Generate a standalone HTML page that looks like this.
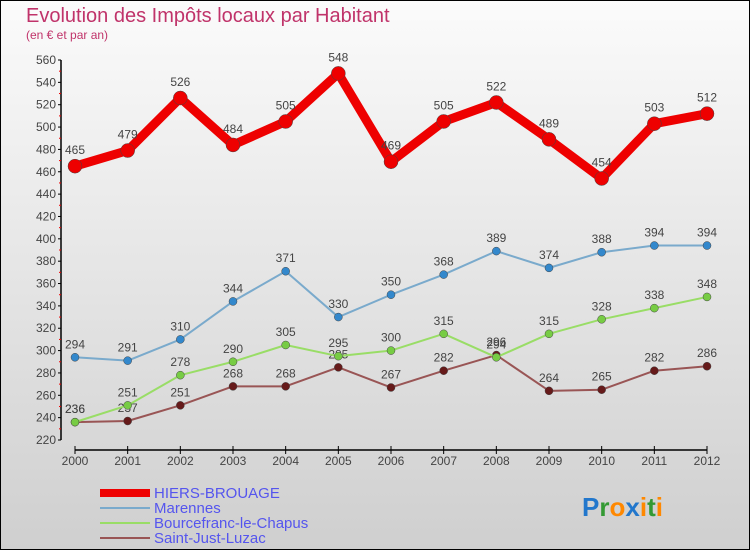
<!DOCTYPE html>
<html><head><meta charset="utf-8"><style>
body{margin:0;}
#c{width:750px;height:550px;position:relative;overflow:hidden;}
text{font-family:"Liberation Sans",sans-serif;}
</style></head><body>
<div id="c">
<svg id="s" width="750" height="550" xmlns="http://www.w3.org/2000/svg">
<defs><linearGradient id="bg" x1="0" y1="0" x2="0" y2="1"><stop offset="0" stop-color="#fbfbfb"/><stop offset="1" stop-color="#cfcfcf"/></linearGradient></defs>
<rect x="0.5" y="0.5" width="749" height="549" fill="url(#bg)" stroke="#000"/>
<text x="26" y="22" font-size="20" fill="#c0336a">Evolution des Impôts locaux par Habitant</text>
<text x="26" y="39" font-size="12" fill="#c0336a">(en € et par an)</text>
<g id="axes"></g><g id="series"></g>
<g>
<rect x="100" y="489" width="50" height="8" fill="#ee0000"/>
<text x="154" y="498" font-size="15" fill="#5555ee">HIERS-BROUAGE</text>
<line x1="100" y1="508" x2="150" y2="508" stroke="#7aaacc" stroke-width="2"/>
<text x="154" y="513" font-size="15" fill="#5555ee">Marennes</text>
<line x1="100" y1="523" x2="150" y2="523" stroke="#99dd66" stroke-width="2"/>
<text x="154" y="528" font-size="15" fill="#5555ee">Bourcefranc-le-Chapus</text>
<line x1="100" y1="538" x2="150" y2="538" stroke="#995555" stroke-width="2"/>
<text x="154" y="543" font-size="15" fill="#5555ee">Saint-Just-Luzac</text>
</g>
<g font-size="26" font-weight="bold">
<text x="582" y="516"><tspan fill="#2277cc">P</tspan><tspan fill="#339933">r</tspan><tspan fill="#ff8800">o</tspan><tspan fill="#2277cc">x</tspan><tspan fill="#ff8800">i</tspan><tspan fill="#339933">t</tspan><tspan fill="#ff8800">i</tspan></text>
</g>
</svg></div>
<script>
const years=[2000,2001,2002,2003,2004,2005,2006,2007,2008,2009,2010,2011,2012];
const hiers=[465,479,526,484,505,548,469,505,522,489,454,503,512];
const marennes=[294,291,310,344,371,330,350,368,389,374,388,394,394];
const bourcefranc=[236,251,278,290,305,295,300,315,294,315,328,338,348];
const saintjust=[236,237,251,268,268,285,267,282,296,264,265,282,286];
const yTicks=[220,240,260,280,300,320,340,360,380,400,420,440,460,480,500,520,540,560];
const NS="http://www.w3.org/2000/svg";
const X=i=>75+i*(707-75)/(years.length-1);
const Y=v=>440-(v-220)*380/340;
function mk(t,a,p){const e=document.createElementNS(NS,t);for(const k in a)e.setAttribute(k,a[k]);if(p)p.appendChild(e);return e;}
const ax=document.getElementById('axes');
const yl=mk('line',{x1:61,y1:Y(560),x2:61,y2:Y(220),stroke:'#000','stroke-width':1.5},ax);


yTicks.forEach(v=>{
  mk('line',{x1:58,y1:Y(v),x2:61,y2:Y(v),stroke:'#000'},ax);
  if(v<560)mk('line',{x1:59,y1:Y(v+10),x2:61,y2:Y(v+10),stroke:'#e00'},ax);
  const t=mk('text',{x:56,y:Y(v)+4,'font-size':12,fill:'#444','text-anchor':'end'},ax);t.textContent=v;
  
  
});
const xl=mk('line',{x1:X(0),y1:450,x2:X(12),y2:450,stroke:'#000','stroke-width':1.5},ax);


years.forEach((y,i)=>{
  mk('line',{x1:X(i),y1:446,x2:X(i),y2:454,stroke:'#000'},ax);
  const t=mk('text',{x:X(i),y:465,'font-size':12,fill:'#444','text-anchor':'middle'},ax);t.textContent=y;
  
  
});
const sg=document.getElementById('series');
function draw(name,data,col,dot,w,r,fs){
  const g=mk('g',{},sg);
  
  
  mk('polyline',{points:data.map((v,i)=>X(i)+','+Y(v)).join(' '),fill:'none',stroke:col,'stroke-width':w,'stroke-linejoin':'round'},g);
  data.forEach((v,i)=>{
    const c=mk('circle',{cx:X(i),cy:Y(v),r:r,fill:dot,stroke:'#444','stroke-width':0.5},g);
    
    
    const t=mk('text',{x:X(i),y:Y(v)-(r+5),'font-size':fs,fill:'#444','text-anchor':'middle'},g);t.textContent=v;
    
    
  });
}
draw('saint-just-series',saintjust,'#995555','#661a1a',2,4,12);
draw('bourcefranc-series',bourcefranc,'#99dd66','#77cc44',2,4,12);
draw('marennes-series',marennes,'#7aaacc','#3388cc',2,4,12);
draw('hiers-series',hiers,'#ee0000','#ee0000',9,7,12);
</script>
</body></html>
